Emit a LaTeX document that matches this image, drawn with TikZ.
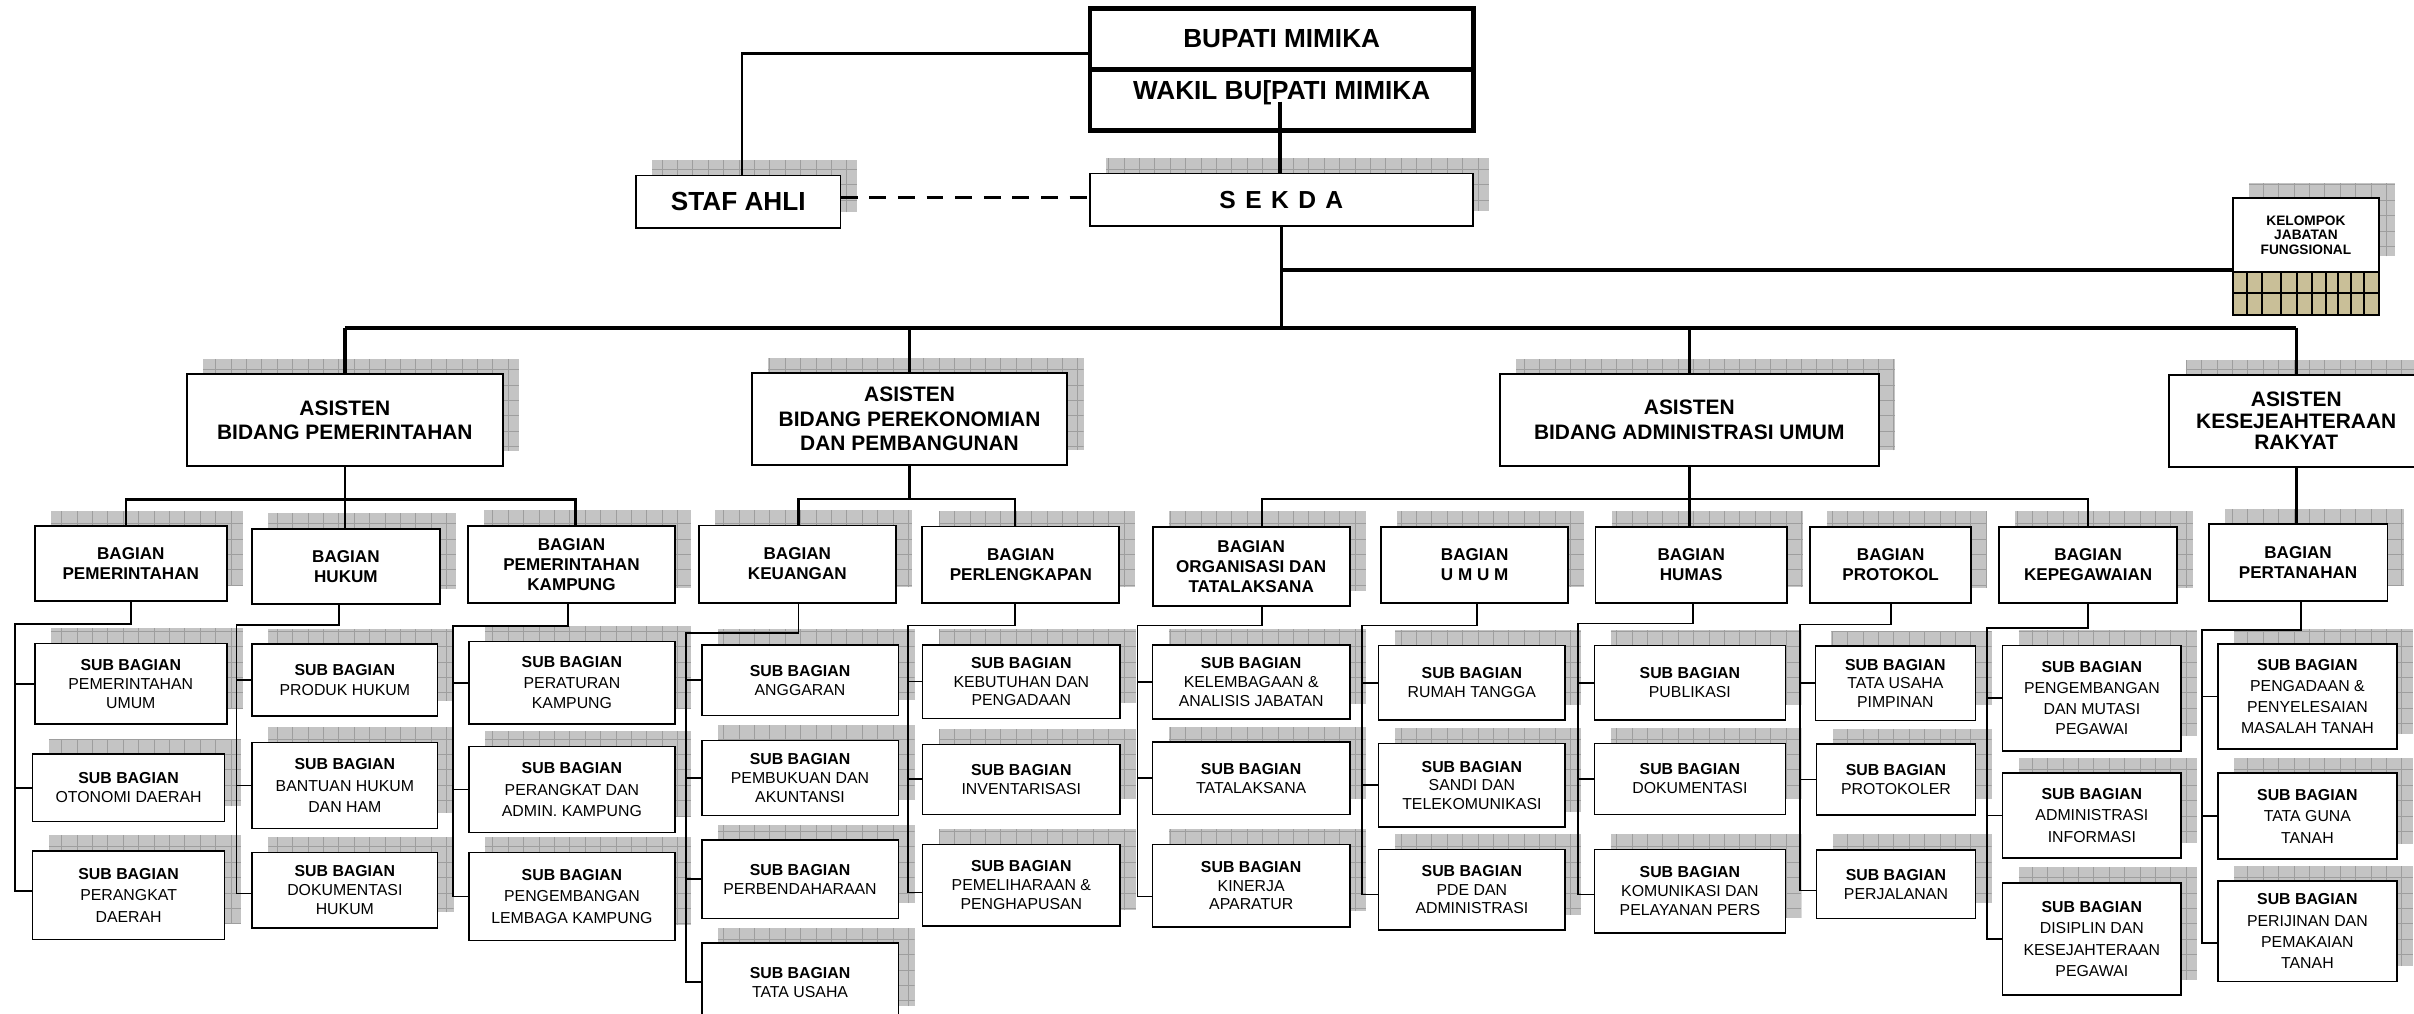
\documentclass[tikz,border=0pt]{standalone}
\usepackage{fontspec}
\setmainfont{Liberation Sans}
\usetikzlibrary{calc}
\pgfdeclarelayer{bg}
\pgfsetlayers{bg,main}
\definecolor{shgray}{RGB}{196,196,196}
\definecolor{shline}{RGB}{158,158,158}
\definecolor{tanc}{RGB}{201,191,152}
\newcommand\sbh{\textbf{SUB BAGIAN}}
\newcommand\orgb[7]{%
  \begin{pgfonlayer}{bg}
    \path[shbox] (#2+10.5,#3-10) rectangle (#4+10.5,#5-10);
  \end{pgfonlayer}
  \node[#6, minimum width={#4-#2}, minimum height={#5-#3}] (#1) at (#2,#3) {#7};%
}
\tikzset{
  shbox/.style={fill=shgray, path picture={\draw[draw=shline, line width=0.4pt, step=10pt] (path picture bounding box.south west) grid (path picture bounding box.north east);}},
  obox/.style={draw=black, fill=white, inner sep=0pt, outer sep=0pt, align=center, anchor=north west, text=black},
  sbx/.style={obox, line width=1pt, font=\fontsize{10.3}{12.4}\selectfont},
  sbL/.style={obox, line width=1pt, font=\fontsize{10.3}{#1}\selectfont},
  bag/.style={obox, line width=1.2pt, font=\bfseries\fontsize{11.1}{13}\selectfont},
  asis/.style={obox, line width=1.3pt, font=\bfseries\fontsize{13.6}{16}\selectfont},
  topbox/.style={obox, line width=1pt, font=\bfseries\fontsize{17}{20}\selectfont},
  lsub/.style={draw=black, line width=1.1pt},
  lbag/.style={draw=black, line width=1.7pt},
  lasis/.style={draw=black, line width=2.2pt},
  lbus/.style={draw=black, line width=2.8pt},
}
\begin{document}
\begin{tikzpicture}[x=1pt,y=-1pt]
\useasboundingbox (0,0) rectangle (1568,658);
\begin{pgfonlayer}{bg}
  \fill[white] (0,0) rectangle (1568,658);
\end{pgfonlayer}

% ---- top
\node[obox, line width=3.2pt, minimum width=249, minimum height=39.8, font=\bfseries\fontsize{17}{20}\selectfont] (bupati) at (708,5.5) {BUPATI MIMIKA};
\node[obox, line width=3.2pt, minimum width=249, minimum height=39.7] (wakil) at (708,45.3) {};
\node[font=\bfseries\fontsize{17}{20}\selectfont, inner sep=0pt] (wakilT) at (832.5,60.3) {WAKIL BU[PATI MIMIKA};

\orgb{staf}{413}{114}{546}{148}{topbox}{STAF AHLI}
\orgb{sekda}{708}{112.6}{956.6}{146.8}{topbox, font=\bfseries\fontsize{16}{19}\selectfont}{{\spaceskip=6.1pt\relax\mbox{S E K D A}}}
\orgb{kjf}{1450.3}{128.8}{1545.3}{176.5}{obox, line width=1.5pt, font=\bfseries\fontsize{8.9}{9.5}\selectfont}{KELOMPOK\\JABATAN\\FUNGSIONAL}
\fill[tanc] (1450.3,176.5) rectangle (1545.3,204.6);
\draw[line width=1.3pt] (1450.3,176.5) rectangle (1545.3,204.6);
\draw[line width=1.3pt] (1450.3,190.5) -- (1545.3,190.5);
\foreach \x in {1459.4,1469.5,1481.7,1491.9,1502,1510.7,1518.5,1527.1,1535.8}
  \draw[line width=1.3pt] (\x,176.5) -- (\x,204.6);

% ---- asisten
\orgb{asPem}{121.2}{243.2}{326.8}{302.7}{asis}{ASISTEN\\BIDANG PEMERINTAHAN}
\orgb{asPerek}{488.3}{242.3}{693.3}{302.2}{asis}{ASISTEN\\BIDANG PEREKONOMIAN\\DAN PEMBANGUNAN}
\orgb{asAdm}{974.2}{243.1}{1220.3}{302.6}{asis}{ASISTEN\\BIDANG ADMINISTRASI UMUM}
\orgb{asKes}{1409.1}{243.6}{1573.9}{303.1}{asis, font=\bfseries\fontsize{13.6}{14.1}\selectfont}{ASISTEN\\KESEJEAHTERAAN\\RAKYAT}

% ---- bagian
\orgb{bPem}{22.6}{341.7}{147.3}{390.4}{bag}{BAGIAN\\PEMERINTAHAN}
\orgb{bHuk}{163.8}{343.4}{285.6}{392.3}{bag}{BAGIAN\\HUKUM}
\orgb{bKamp}{303.9}{341.5}{438.5}{391.7}{bag}{BAGIAN\\PEMERINTAHAN\\KAMPUNG}
\orgb{bKeu}{454}{341.3}{581.8}{391.5}{bag}{BAGIAN\\KEUANGAN}
\orgb{bPerl}{599.1}{342}{727}{391.5}{bag}{BAGIAN\\PERLENGKAPAN}
\orgb{bOrg}{748.7}{342.1}{876.7}{393.6}{bag}{BAGIAN\\ORGANISASI DAN\\TATALAKSANA}
\orgb{bUmum}{897.2}{342.1}{1018.5}{391.5}{bag}{BAGIAN\\U M U M}
\orgb{bHum}{1036.3}{342.1}{1160.7}{391.5}{bag}{BAGIAN\\HUMAS}
\orgb{bProt}{1175.9}{342.1}{1280.2}{391.7}{bag}{BAGIAN\\PROTOKOL}
\orgb{bPeg}{1298.6}{342.1}{1414.1}{391.7}{bag}{BAGIAN\\KEPEGAWAIAN}
\orgb{bPert}{1434.6}{340.5}{1550.8}{390.6}{bag}{BAGIAN\\PERTANAHAN}

% ---- sub bagian
\orgb{sPem1}{22.6}{417.9}{147.3}{470.3}{sbx}{\sbh\\PEMERINTAHAN\\UMUM}
\orgb{sPem2}{21.2}{489.8}{145.9}{533.7}{sbx}{\sbh\\OTONOMI DAERAH}
\orgb{sPem3}{21.2}{552.6}{145.9}{610.1}{sbL=14}{\sbh\\PERANGKAT\\DAERAH}

\orgb{sHuk1}{163.8}{418.3}{284.2}{465.1}{sbx}{\sbh\\PRODUK HUKUM}
\orgb{sHuk2}{163.8}{482.4}{284.2}{538}{sbL=14}{\sbh\\BANTUAN HUKUM\\DAN HAM}
\orgb{sHuk3}{163.8}{553.6}{284.2}{602.6}{sbx}{\sbh\\DOKUMENTASI\\HUKUM}

\orgb{sKamp1}{304.5}{416.8}{438.5}{470.3}{sbL=13.3}{\sbh\\PERATURAN\\KAMPUNG}
\orgb{sKamp2}{304.5}{485}{438.5}{540.7}{sbL=13.9}{\sbh\\PERANGKAT DAN\\ADMIN. KAMPUNG}
\orgb{sKamp3}{304.5}{553.6}{438.5}{611}{sbL=13.7}{\sbh\\PENGEMBANGAN\\LEMBAGA KAMPUNG}

\orgb{sKeu1}{455.8}{418.8}{583.5}{464.8}{sbx}{\sbh\\ANGGARAN}
\orgb{sKeu2}{455.8}{481}{583.5}{529.7}{sbx}{\sbh\\PEMBUKUAN DAN\\AKUNTANSI}
\orgb{sKeu3}{455.8}{545.6}{583.5}{596.6}{sbx}{\sbh\\PERBENDAHARAAN}
\orgb{sKeu4}{455.8}{612.5}{583.5}{663.5}{sbx}{\sbh\\TATA USAHA}

\orgb{sPerl1}{599.3}{418.8}{727.5}{466.7}{sbL=11.8}{\sbh\\KEBUTUHAN DAN\\PENGADAAN}
\orgb{sPerl2}{599.3}{483.5}{727.5}{528.9}{sbx}{\sbh\\INVENTARISASI}
\orgb{sPerl3}{599.3}{548.4}{727.5}{601.4}{sbL=12.1}{\sbh\\PEMELIHARAAN \&\\PENGHAPUSAN}

\orgb{sOrg1}{748.7}{418.8}{876.7}{467}{sbx}{\sbh\\KELEMBAGAAN \&\\ANALISIS JABATAN}
\orgb{sOrg2}{748.7}{482}{876.7}{528.9}{sbx}{\sbh\\TATALAKSANA}
\orgb{sOrg3}{748.7}{548.4}{876.7}{602}{sbL=12.1}{\sbh\\KINERJA\\APARATUR}

\orgb{sUm1}{895.5}{419.4}{1016.6}{467.6}{sbx}{\sbh\\RUMAH TANGGA}
\orgb{sUm2}{895.5}{482.9}{1016.6}{537.2}{sbL=12.1}{\sbh\\SANDI DAN\\TELEKOMUNIKASI}
\orgb{sUm3}{895.5}{551.8}{1016.6}{604.1}{sbL=12}{\sbh\\PDE DAN\\ADMINISTRASI}

\orgb{sHum1}{1035.7}{419.4}{1159.6}{467.6}{sbx}{\sbh\\PUBLIKASI}
\orgb{sHum2}{1035.7}{482.9}{1159.6}{528.9}{sbx}{\sbh\\DOKUMENTASI}
\orgb{sHum3}{1035.7}{551.8}{1159.6}{606}{sbL=12.2}{\sbh\\KOMUNIKASI DAN\\PELAYANAN PERS}

\orgb{sPro1}{1179.1}{419.6}{1283.1}{468.1}{sbL=11.8}{\sbh\\TATA USAHA\\PIMPINAN}
\orgb{sPro2}{1179.9}{483.3}{1283.1}{529.3}{sbx}{\sbh\\PROTOKOLER}
\orgb{sPro3}{1179.9}{552}{1283.1}{596.6}{sbx}{\sbh\\PERJALANAN}

\orgb{sPeg1}{1300.7}{419.3}{1416.8}{487.8}{sbL=13.5}{\sbh\\PENGEMBANGAN\\DAN MUTASI\\PEGAWAI}
\orgb{sPeg2}{1300.7}{502.1}{1416.8}{557.3}{sbL=13.8}{\sbh\\ADMINISTRASI\\INFORMASI}
\orgb{sPeg3}{1300.7}{573.4}{1416.8}{646.3}{sbL=14}{\sbh\\DISIPLIN DAN\\KESEJAHTERAAN\\PEGAWAI}

\orgb{sPer1}{1440.7}{418.4}{1556.8}{486.6}{sbL=13.8}{\sbh\\PENGADAAN \&\\PENYELESAIAN\\MASALAH TANAH}
\orgb{sPer2}{1440.7}{502.1}{1556.8}{558}{sbL=14}{\sbh\\TATA GUNA\\TANAH}
\orgb{sPer3}{1440.7}{572.3}{1556.8}{637.5}{sbL=13.9}{\sbh\\PERIJINAN DAN\\PEMAKAIAN\\TANAH}

% ---- connectors top
\coordinate (bus) at (832.3,213);
\coordinate (wk) at (831.4,66);
\draw[lbag] ([yshift=-9.2pt]bupati.west) -| ([xshift=2.5pt]staf.north);
\draw[lasis] (wk) -- (wk |- sekda.north);
\draw[draw=black, line width=2pt, dash pattern=on 11pt off 7.6pt] ([yshift=2.8pt]staf.east) -- ([yshift=2.8pt]staf.east -| sekda.west);
\draw[lasis] (sekda.south) -- (sekda.south |- bus);
\draw[lasis] ([yshift=1pt]kjf.south west) -- ([yshift=1pt]kjf.south west -| sekda.south);
\draw[lbus] (asPem.north |- bus) -- (asKes.north |- bus);
\foreach \n in {asPem,asPerek,asAdm,asKes}
  \draw[lasis] (\n.north |- bus) -- (\n.north);

% ---- asisten to bagian
\coordinate (hPem) at (224,324.3);
\draw[lbag] ([xshift=-3pt]bPem.north) |- (hPem) -| ([xshift=2.8pt]bKamp.north);
\draw[lbag] (asPem.south) -- (asPem.south |- bHuk.north);
\coordinate (hPer) at (590.8,324);
\draw[lbag] ([xshift=0.7pt]bKeu.north) |- (hPer) -| ([xshift=-3.7pt]bPerl.north);
\draw[lbag] (asPerek.south) -- (hPer);
\coordinate (hAdm) at (1097.25,324);
\draw[lbag] ([xshift=7.1pt]bOrg.north) |- (hAdm) -| (bPeg.north);
\draw[lbag] (asAdm.south) -- (asAdm.south |- bHum.north);
\draw[lbag] (asKes.south) -- (asKes.south |- bPert.north);

% ---- bagian to sub bagian
\coordinate (jPem) at (9.6,405.3);
\draw[lsub] (bPem.south) |- (jPem) |- ([yshift=2.8pt]sPem3.west);
\coordinate (jHuk) at (153.7,406);
\draw[lsub] ([xshift=-4.4pt]bHuk.south) |- (jHuk) |- ([yshift=-2.2pt]sHuk3.west);
\coordinate (jKamp) at (294.3,406.4);
\draw[lsub] ([xshift=-2.3pt]bKamp.south) |- (jKamp) |- (sKamp3.west);
\coordinate (jKeu) at (445.4,411.2);
\draw[lsub] ([xshift=0.7pt]bKeu.south) |- (jKeu) |- (sKeu4.west);
\coordinate (jPerl) at (589.6,406.2);
\draw[lsub] ([xshift=-3.7pt]bPerl.south) |- (jPerl) |- ([yshift=-4.8pt]sPerl3.west);
\coordinate (jOrg) at (738.8,406.2);
\draw[lsub] ([xshift=7.1pt]bOrg.south) |- (jOrg) |- ([yshift=-7.2pt]sOrg3.west);
\coordinate (jUm) at (884.6,406.2);
\draw[lsub] ([xshift=1.3pt]bUmum.south) |- (jUm) |- ([yshift=-3pt]sUm3.west);
\coordinate (jHum) at (1024.8,404.9);
\draw[lsub] ([xshift=1pt]bHum.south) |- (jHum) |- ([yshift=-2.1pt]sHum3.west);
\coordinate (jPro) at (1169.3,405.7);
\draw[lsub] (bProt.south) |- (jPro) |- ([yshift=-4.2pt]sPro3.west);
\coordinate (jPeg) at (1290.7,407.9);
\draw[lsub] (bPeg.south) |- (jPeg) |- (sPeg3.west);
\coordinate (jPert) at (1430.2,409);
\draw[lsub] ([xshift=1.8pt]bPert.south) |- (jPert) |- ([yshift=-7.7pt]sPer3.west);

\foreach \j/\n in {jPem/sPem1,jPem/sPem2,jHuk/sHuk1,jHuk/sHuk2,jKamp/sKamp1,jKamp/sKamp2,
  jKeu/sKeu1,jKeu/sKeu2,jKeu/sKeu3,jPerl/sPerl1,jPerl/sPerl2,jOrg/sOrg1,jOrg/sOrg2,
  jUm/sUm1,jUm/sUm2,jHum/sHum1,jHum/sHum2,jPro/sPro1,jPro/sPro2,jPeg/sPeg1,jPeg/sPeg2,
  jPert/sPer1,jPert/sPer2}
  \draw[lsub] (\j |- \n.west) -- (\n.west);
\end{tikzpicture}
\end{document}
